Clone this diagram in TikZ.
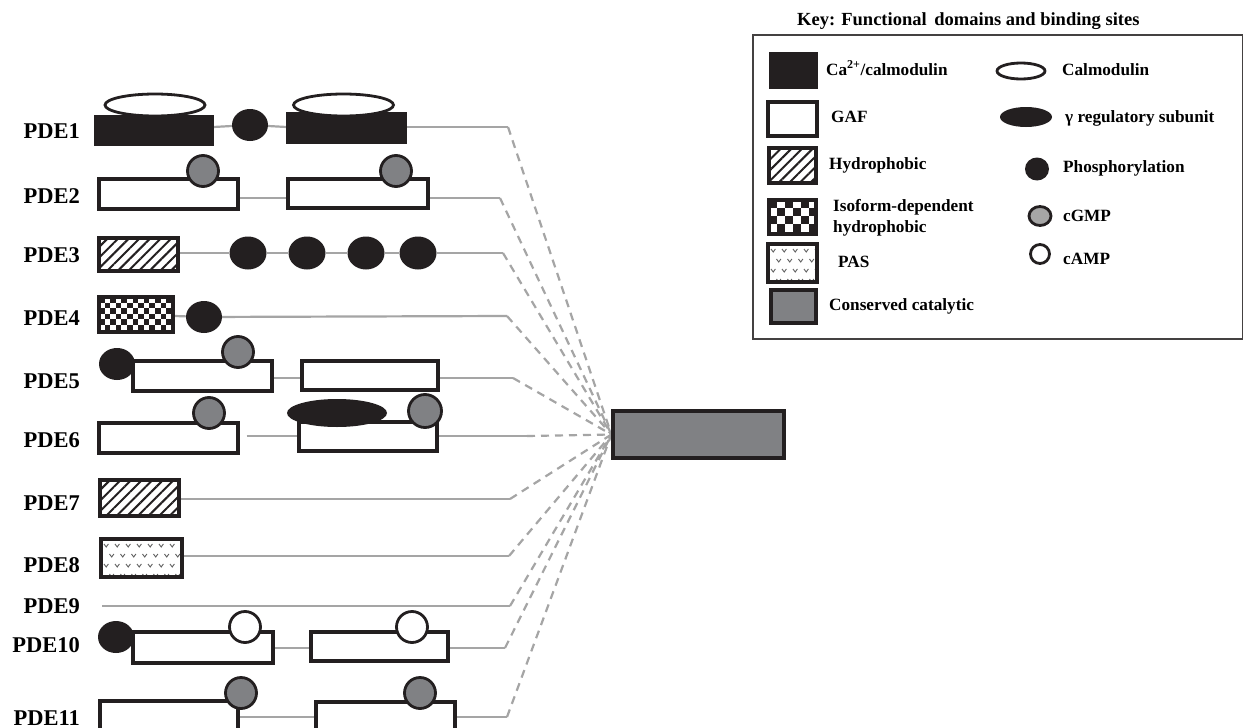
\documentclass[tikz,border=0pt]{standalone}
\usepackage{fontspec}
\setmainfont{Liberation Serif}
\usetikzlibrary{shapes.geometric,patterns.meta,backgrounds}
\definecolor{lg}{HTML}{A5A5A5}
\definecolor{cg}{HTML}{808184}
\definecolor{bk}{HTML}{231F20}
\tikzset{
  dom/.style={draw=bk, line width=3.2pt, inner sep=0pt, rectangle},
  blackdom/.style={dom, fill=bk},
  gafdom/.style={dom, fill=white},
  catdom/.style={dom, fill=cg},
  hydro/.style={dom, pattern={Lines[angle=45,distance=7.5pt,line width=2pt]}, pattern color=bk},
  checker/.style={dom, fill=white, path picture={
      \foreach \i in {0,...,16}{\foreach \j in {0,...,8}{
        \pgfmathsetmacro\ok{mod(\i+\j,2)}
        \ifdim\ok pt=0pt
          \fill[bk] ([shift={({\i*#1},{\j*#1})}]path picture bounding box.north west) rectangle ++(#1,#1);
        \fi}}}},
  pasdom/.style={dom, fill=white, path picture={
      \foreach \i in {0,...,9}{\foreach \j in {0,...,4}{
        \pgfmathsetmacro\off{mod(\j,2)*5.5}
        \draw[gray!75!black, line width=0.9pt]
          ([shift={({3+\i*11+\off},{5+\j*10})}]path picture bounding box.north west)
          -- ++(2.2,3) -- ++(2.2,-3);}}}},
  phos/.style={ellipse, fill=bk, draw=none, inner sep=0pt, minimum width=36pt, minimum height=32pt},
  cgmp/.style={circle, fill=cg, draw=bk, line width=2.8pt, inner sep=0pt, minimum size=31pt},
  camp/.style={circle, fill=white, draw=bk, line width=2.8pt, inner sep=0pt, minimum size=31pt},
  calm/.style={ellipse, fill=white, draw=bk, line width=2.8pt, inner sep=0pt, minimum width=100pt, minimum height=22pt},
  gsub/.style={ellipse, fill=bk, draw=none, inner sep=0pt, minimum width=100pt, minimum height=28pt},
  conn/.style={draw=lg, line width=2.2pt},
  fan/.style={draw=lg, line width=2.2pt, dash pattern=on 8pt off 6pt},
  lab/.style={anchor=east, inner sep=0pt, font=\fontsize{22.5}{22.5}\selectfont\bfseries},
  keytext/.style={anchor=west, inner sep=0pt, font=\fontsize{17.2}{21}\selectfont\bfseries, align=left},
}
\begin{document}
\begin{tikzpicture}[x=1pt, y=-1pt]
\useasboundingbox (0,0) rectangle (1243,728);
\clip (0,0) rectangle (1243,728);

% ---------- labels ----------
\node[lab] (l1) at (80,131) {PDE1};
\node[lab] (l2) at (80,196) {PDE2};
\node[lab] (l3) at (80,255) {PDE3};
\node[lab] (l4) at (80,318) {PDE4};
\node[lab] (l5) at (80,381) {PDE5};
\node[lab] (l6) at (80,440) {PDE6};
\node[lab] (l7) at (80,503) {PDE7};
\node[lab] (l8) at (80,565) {PDE8};
\node[lab] (l9) at (80,606) {PDE9};
\node[lab] (l10) at (80,645) {PDE10};
\node[lab] (l11) at (80,718) {PDE11};

% ---------- catalytic ----------
\node[catdom, minimum width=171pt, minimum height=47pt] (cat) at (698.5,434.5) {};

% ---------- PDE1 ----------
\node[blackdom, minimum width=116pt, minimum height=28pt] (r1a) at (154,130.5) {};
\node[calm] (e1a) at (155,105) {};
\node[phos] (p1) at (250,125) {};
\node[blackdom, minimum width=117pt, minimum height=28pt] (r1b) at (346.5,128) {};
\node[calm] (e1b) at (343.5,105) {};
\coordinate (z1) at (508,127);
% ---------- PDE2 ----------
\node[gafdom, minimum width=139pt, minimum height=30pt] (r2a) at (168.5,194) {};
\node[cgmp] (g2a) at (203,171) {};
\node[gafdom, minimum width=140pt, minimum height=29pt] (r2b) at (358,193.5) {};
\node[cgmp] (g2b) at (396,171) {};
\coordinate (z2) at (500,198);
% ---------- PDE3 ----------
\node[hydro, minimum width=79pt, minimum height=33pt] (h3) at (138.5,254.5) {};
\node[phos, minimum width=37pt, minimum height=33pt] (p3a) at (248,253) {};
\node[phos, minimum width=37pt, minimum height=33pt] (p3b) at (307,253) {};
\node[phos, minimum width=37pt, minimum height=33pt] (p3c) at (366,253) {};
\node[phos, minimum width=37pt, minimum height=33pt] (p3d) at (418,253) {};
\coordinate (z3) at (503,253);
% ---------- PDE4 ----------
\node[checker=5.6, minimum width=74pt, minimum height=35pt] (c4) at (136,314.5) {};
\node[phos] (p4) at (204,317) {};
\coordinate (z4) at (507,316);
% ---------- PDE5 ----------
\node[gafdom, minimum width=139pt, minimum height=30pt] (r5a) at (202.5,376) {};
\node[phos] (p5) at (117,364) {};
\node[cgmp] (g5) at (238,352) {};
\node[gafdom, minimum width=136pt, minimum height=29pt] (r5b) at (370,375.5) {};
\coordinate (z5) at (513,378);
% ---------- PDE6 ----------
\node[gafdom, minimum width=139pt, minimum height=30pt] (r6a) at (168.5,438) {};
\node[cgmp] (g6a) at (209,413) {};
\node[gafdom, minimum width=138pt, minimum height=29pt] (r6b) at (368,436.5) {};
\node[gsub] (y6) at (337,413) {};
\node[cgmp, minimum size=33pt] (g6b) at (425,411) {};
\coordinate (z6) at (527,436);
% ---------- PDE7 ----------
\node[hydro, minimum width=79pt, minimum height=36pt] (h7) at (139.5,498) {};
\coordinate (z7) at (510,499);
% ---------- PDE8 ----------
\node[pasdom, minimum width=81pt, minimum height=38pt] (s8) at (141.5,558) {};
\coordinate (z8) at (509,556);
% ---------- PDE9 ----------
\coordinate (a9) at (102,606);
\coordinate (z9) at (510,606);
% ---------- PDE10 ----------
\node[gafdom, minimum width=140pt, minimum height=31pt] (r10a) at (203,647.5) {};
\node[phos] (p10) at (116,637) {};
\node[camp] (w10a) at (245,627) {};
\node[gafdom, minimum width=137pt, minimum height=29pt] (r10b) at (379.5,646.5) {};
\node[camp] (w10b) at (412,627) {};
\coordinate (z10) at (505,648);
% ---------- PDE11 ----------
\node[gafdom, minimum width=138pt, minimum height=39pt] (r11a) at (169,720.5) {};
\node[cgmp] (g11a) at (241,693) {};
\node[gafdom, minimum width=139pt, minimum height=38pt] (r11b) at (385.5,721) {};
\node[cgmp] (g11b) at (420,693) {};
\coordinate (z11) at (507,717);

% ---------- connectors (behind) ----------
\begin{pgfonlayer}{background}
\fill[white] (0,0) rectangle (1243,728);
\draw[conn] (r1a.east |- z1) -- (p1) -- (r1b.west |- z1);
\draw[conn] (r1b.east |- z1) -- (z1);
\draw[conn] (r2a.east |- z2) -- (r2b.west |- z2);
\draw[conn] (r2b.east |- z2) -- (z2);
\draw[conn] (h3.east |- z3) -- (p3a) -- (p3b) -- (p3c) -- (p3d) -- (z3);
\draw[conn] (c4.east |- z4) -- (p4) -- (z4);
\draw[conn] (r5a.east |- z5) -- (r5b.west |- z5);
\draw[conn] (r5b.east |- z5) -- (z5);
\draw[conn] ([xshift=7pt]r6a.east |- z6) -- (r6b.west |- z6);
\draw[conn] (r6b.east |- z6) -- (z6);
\draw[conn] (h7.east |- z7) -- (z7);
\draw[conn] (s8.east |- z8) -- (z8);
\draw[conn] (a9) -- (z9);
\draw[conn] (r10a.east |- z10) -- (r10b.west |- z10);
\draw[conn] (r10b.east |- z10) -- (z10);
\draw[conn] (r11a.east |- z11) -- (r11b.west |- z11);
\draw[conn] (r11b.east |- z11) -- (z11);
\foreach \z in {z1,z2,z3,z4,z5,z6,z7,z8,z9,z10,z11}
  \draw[fan] (\z) -- (cat.west);
\end{pgfonlayer}

% ---------- key ----------
\node[keytext, font=\fontsize{18.5}{21}\selectfont\bfseries] (kt) at (797,21) {Key: Functional\, domains and binding sites};
\node[draw=bk!85, line width=1.2pt, minimum width=490pt, minimum height=304pt, inner sep=0pt] (kbox) at (998,187) {};

\node[blackdom, minimum width=45pt, minimum height=33pt] (k1) at (793.5,70.5) {};
\node[keytext] (k1t) at (826,68) {Ca\textsuperscript{2+}/calmodulin};
\node[gafdom, minimum width=49pt, minimum height=34pt] (k2) at (792.5,119) {};
\node[keytext] (k2t) at (831,117) {GAF};
\node[hydro, minimum width=47pt, minimum height=35pt] (k3) at (792.5,165.5) {};
\node[keytext] (k3t) at (829,165) {Hydrophobic};
\node[checker=8, minimum width=47pt, minimum height=34pt] (k4) at (792.5,217) {};
\node[keytext] (k4t) at (833,217.5) {Isoform-dependent\\hydrophobic};
\node[pasdom, minimum width=49pt, minimum height=38pt] (k5) at (792.5,263) {};
\node[keytext] (k5t) at (838,262) {PAS};
\node[catdom, minimum width=45pt, minimum height=33pt] (k6) at (793.5,306.5) {};
\node[keytext] (k6t) at (829,306) {Conserved catalytic};

\node[calm, minimum width=48pt, minimum height=16pt] (k7) at (1021,71) {};
\node[keytext] (k7t) at (1062,70) {Calmodulin};
\node[gsub, minimum width=52pt, minimum height=20pt] (k8) at (1026,117) {};
\node[keytext] (k8t) at (1065,118) {γ regulatory subunit};
\node[phos, minimum width=24pt, minimum height=23pt] (k9) at (1037,169) {};
\node[keytext] (k9t) at (1063,168) {Phosphorylation};
\node[cgmp, ellipse, minimum width=22pt, minimum height=19pt, fill=gray!70] (k10) at (1040,216) {};
\node[keytext] (k10t) at (1063,216) {cGMP};
\node[camp, minimum size=19pt] (k11) at (1040,254) {};
\node[keytext] (k11t) at (1063,259) {cAMP};
\end{tikzpicture}
\end{document}
